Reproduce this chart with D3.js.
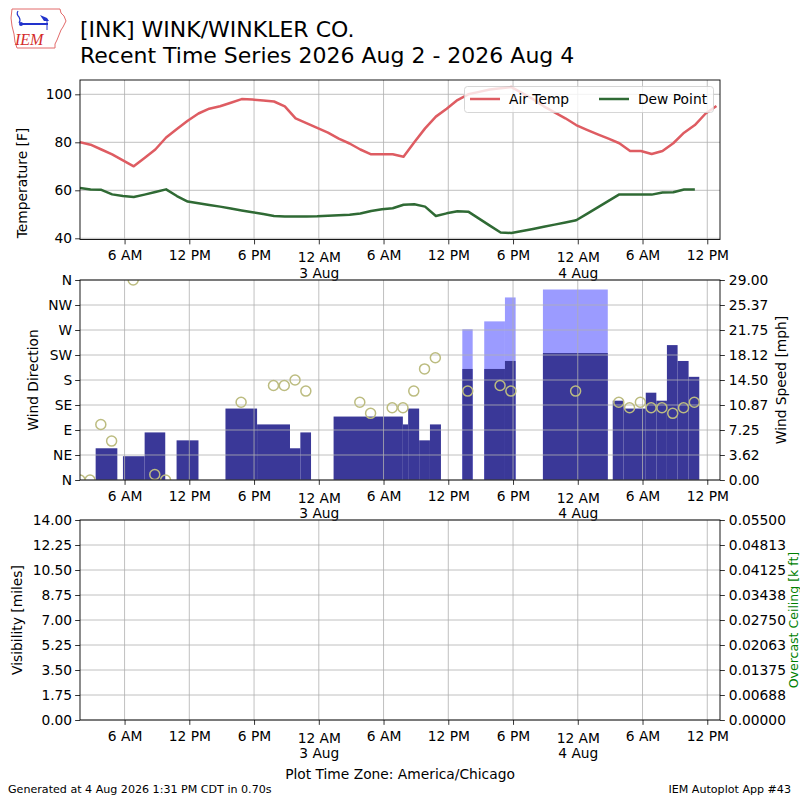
<!DOCTYPE html>
<html>
<head>
<meta charset="utf-8">
<script src="https://cdn.jsdelivr.net/npm/d3@7"></script>
<style>
body { margin: 0; background: #fff; }
svg { font-family: "DejaVu Sans", sans-serif; }
</style>
</head>
<body>
<svg id="chart" width="800" height="800"></svg>
<script>
// all times are hours after 2026-08-02 00:00 (local station time)
var obsHours = [1.87, 2.85, 3.85, 4.85, 5.85, 6.85, 7.85, 8.85, 9.85, 10.85, 11.85, 12.85, 13.85, 14.85, 15.85,
  16.85, 17.85, 18.85, 19.85, 20.85, 21.85, 22.85, 23.85, 24.85, 25.85, 26.85, 27.85, 28.85, 29.85, 30.85,
  31.85, 32.85, 33.85, 34.85, 35.85, 36.85, 37.85, 38.85, 39.85, 40.85, 41.85, 42.85, 43.85, 44.85, 45.85,
  46.85, 47.85, 48.85, 49.85, 50.85, 51.85, 52.85, 53.85, 54.85, 55.85, 56.85, 57.85, 58.85, 59.85, 60.85];
var tempValues = [80, 79, 77, 75, 72.5, 70, 73.5, 77, 82, 85.5, 89, 92, 94, 95, 96.5,
  98, 97.8, 97.4, 97, 95, 90, 88, 86, 84, 81.5, 79.5, 77, 75, 75, 75,
  74, 80, 85.8, 90.7, 94, 97.6, 100, 101, 102, 102.5, 103, 100.5, 98, 95, 92.5,
  90, 87.2, 85.2, 83.3, 81.5, 79.6, 76.4, 76.4, 75.1, 76.4, 79.6, 84, 87.2, 92, 95.1];
var dewValues = [61, 60.3, 60.2, 58.3, 57.6, 57.2, 58.2, 59.3, 60.4, 57.6, 55.3, 54.6, 53.9, 53.2, 52.4,
  51.6, 50.9, 50.1, 49.3, 49.1, 49.1, 49.1, 49.2, 49.4, 49.6, 49.8, 50.3, 51.4, 52.1, 52.5,
  54, 54.2, 53.2, 49.3, 50.4, 51.3, 51.1, 48.2, 45.3, 42.4, 42.2, 43, 43.9, 44.8, 45.7,
  46.6, 47.5, 50.2, 52.9, 55.6, 58.3, 58.2, 58.2, 58.2, 59.1, 59.2, 60.3, 60.3];

// wind direction observations
var dirHours = [1.87, 2.8, 3.8, 4.8, 6.8, 8.8, 9.8, 16.8, 19.8, 20.8, 21.8, 22.8, 27.8, 28.8, 30.8, 31.8,
  32.8, 33.8, 34.8, 37.8, 40.8, 41.8, 47.8, 51.8, 52.8, 53.8, 54.8, 55.8, 56.8, 57.8, 58.8];
var dirValues = [0, 0, 100, 70, 360, 10, 0, 140, 170, 170, 180, 160, 140, 120, 130, 130,
  160, 200, 220, 160, 170, 160, 160, 140, 130, 140, 130, 130, 120, 130, 140];

// wind speed / gust bars [mph]
var windFrom = [3.32, 5.85, 7.86, 10.82, 15.35, 18.28, 21.33, 22.29, 25.37, 31.79, 32.28, 33.3, 34.3,
  37.3, 39.33, 41.25, 44.77, 51.24, 52.25, 54.3, 55.28, 56.26, 57.25, 58.27];
var windTo = [5.33, 7.86, 9.77, 12.85, 18.28, 21.33, 22.29, 23.28, 31.79, 32.28, 33.3, 34.3, 35.32,
  38.26, 41.25, 42.24, 50.78, 52.25, 54.3, 55.28, 56.26, 57.25, 58.27, 59.26];
var windSpeed = [4.6, 3.45, 6.9, 5.75, 10.36, 8.06, 4.6, 6.9, 9.2, 8.06, 10.36, 5.75, 8.06,
  16.1, 16.1, 17.26, 18.41, 11.5, 10.36, 12.66, 11.5, 19.56, 17.26, 14.96];
var windGust = [0, 0, 0, 0, 0, 0, 0, 0, 0, 0, 0, 0, 0,
  21.86, 23.0, 26.47, 27.62, 0, 0, 0, 0, 0, 0, 0];

// axis ticks
var tempTicks = [40, 60, 80, 100];
var dirTicks = [0, 45, 90, 135, 180, 225, 270, 315, 360];
var dirLabels = ['N', 'NE', 'E', 'SE', 'S', 'SW', 'W', 'NW', 'N'];
var speedTicks = [0, 3.625, 7.25, 10.875, 14.5, 18.125, 21.75, 25.375, 29];
var speedLabels = ['0.00', '3.62', '7.25', '10.87', '14.50', '18.12', '21.75', '25.37', '29.00'];
var visTicks = [0, 1.75, 3.5, 5.25, 7, 8.75, 10.5, 12.25, 14];
var ceilTicks = [0, 0.006875, 0.01375, 0.020625, 0.0275, 0.034375, 0.04125, 0.048125, 0.055];
var ceilLabels = ['0.00000', '0.00688', '0.01375', '0.02063', '0.02750', '0.03438', '0.04125', '0.04813', '0.05500'];

var t0 = Date.UTC(2026, 7, 2);
function hr(h) { return new Date(t0 + h * 3600000); }

var svg = d3.select('#chart');
var fs = 13.8, tickLen = 4.86;
var gridColor = '#b0b0b0';

var x = d3.scaleUtc().domain([hr(1.87), hr(61.18)]).range([80, 720]);
var xTicks = d3.utcHour.every(6).range(hr(1.87), hr(61.18));
var fmtHour = d3.utcFormat('%-I %p'), fmtDay = d3.utcFormat('%-d %b');

var defs = svg.append('defs');

// draws grid + x axis for one panel, returns layer for marks
function makePanel(id, top, bottom) {
	defs.append('clipPath').attr('id', 'clip' + id).append('rect')
		.attr('x', 80).attr('y', top).attr('width', 640).attr('height', bottom - top);
	var g = svg.append('g').attr('class', 'panel');
	g.marks = g.append('g').attr('clip-path', 'url(#clip' + id + ')');
	g.grid = g.append('g');
	g.grid.selectAll('line.v').data(xTicks).enter().append('line').attr('class', 'v')
		.attr('x1', function(d) { return x(d); }).attr('x2', function(d) { return x(d); })
		.attr('y1', top).attr('y2', bottom).attr('stroke', gridColor).attr('stroke-width', 0.8);
	g.top = g.append('g').attr('clip-path', 'url(#clip' + id + ')');

	var ax = g.append('g').attr('transform', 'translate(0,' + bottom + ')')
		.call(d3.axisBottom(x).tickValues(xTicks).tickSize(tickLen).tickSizeOuter(0).tickFormat(fmtHour));
	ax.select('.domain').remove();
	ax.selectAll('.tick line').attr('stroke', '#000').attr('stroke-width', 0.8);
	ax.selectAll('.tick text').attr('font-size', fs).attr('font-family', 'DejaVu Sans').attr('fill', '#000')
		.attr('dy', null).attr('y', 20.8)
		.each(function(d) {
			if (d.getUTCHours() === 0) {
				var t = d3.select(this).text(null).attr('y', 22.8);
				t.append('tspan').attr('x', 0).text(fmtHour(d));
				t.append('tspan').attr('x', 0).attr('dy', 15.6).text(fmtDay(d));
			}
		});
	g.frame = function() {
		g.append('rect').attr('x', 80).attr('y', top).attr('width', 640).attr('height', bottom - top)
			.attr('fill', 'none').attr('stroke', '#000').attr('stroke-width', 0.9);
	};
	return g;
}

function yGrid(g, scale, ticks) {
	g.grid.selectAll('line.h').data(ticks).enter().append('line').attr('class', 'h')
		.attr('x1', 80).attr('x2', 720)
		.attr('y1', function(d) { return scale(d); }).attr('y2', function(d) { return scale(d); })
		.attr('stroke', gridColor).attr('stroke-width', 0.8);
}

function styleAxis(ax) {
	ax.select('.domain').remove();
	ax.selectAll('.tick line').attr('stroke', '#000').attr('stroke-width', 0.8);
	ax.selectAll('.tick text').attr('font-size', fs).attr('font-family', 'DejaVu Sans').attr('fill', '#000');
}

function axisLabel(text, px, py, color, size) {
	svg.append('text').attr('transform', 'translate(' + px + ',' + py + ') rotate(-90)')
		.attr('text-anchor', 'middle').attr('font-size', size || fs).attr('fill', color || '#000').text(text);
}

// ---------------- titles / logo
var logo = svg.append('g');
logo.append('path').attr('d', 'M12,9 L60,9 L61,13 L64,16 L66,21 L63,27 L61,30 L59,35 L57,40 L55,44 L55,48 L17,48 L15,42 L14,34 L12,26 L11,18 Z')
	.attr('fill', 'none').attr('stroke', '#e26a6a').attr('stroke-width', 1);
logo.append('path').attr('d', 'M18,11 Q16,14 19,17 Q21,20 19,23').attr('fill', 'none').attr('stroke', '#2233cc').attr('stroke-width', 1.2);
logo.append('line').attr('x1', 20).attr('y1', 24).attr('x2', 48).attr('y2', 24).attr('stroke', '#2233cc').attr('stroke-width', 2);
logo.append('path').attr('d', 'M40,15 L47,18 L49,21 L44,21 Z').attr('fill', '#2233cc');
logo.append('line').attr('x1', 47).attr('y1', 20).attr('x2', 47).attr('y2', 30).attr('stroke', '#2233cc').attr('stroke-width', 1);
logo.append('circle').attr('cx', 21).attr('cy', 24).attr('r', 2).attr('fill', '#2233cc');
logo.append('text').attr('x', 15).attr('y', 45).attr('font-family', 'Liberation Serif').attr('font-style', 'italic')
	.attr('font-size', 16).attr('fill', '#d42a2a').text('IEM');

svg.append('text').attr('x', 80).attr('y', 37).attr('font-size', 22).attr('fill', '#000').text('[INK] WINK/WINKLER CO.');
svg.append('text').attr('x', 80).attr('y', 63).attr('font-size', 22).attr('fill', '#000').text('Recent Time Series 2026 Aug 2 - 2026 Aug 4');

// ---------------- temperature panel
var p1 = makePanel(1, 80, 239.5);
var yT = d3.scaleLinear().domain([39.5, 105.96]).range([239.5, 80]);
yGrid(p1, yT, tempTicks);
var line = d3.line().x(function(d) { return x(hr(d[0])); }).y(function(d) { return yT(d[1]); });
var tempColor = '#de5c62', dewColor = '#2f6a34';
p1.top.append('path').datum(d3.zip(obsHours, tempValues)).attr('d', line)
	.attr('fill', 'none').attr('stroke', tempColor).attr('stroke-width', 2.5).attr('stroke-linejoin', 'round');
p1.top.append('path').datum(d3.zip(obsHours.slice(0, dewValues.length), dewValues)).attr('d', line)
	.attr('fill', 'none').attr('stroke', dewColor).attr('stroke-width', 2.5).attr('stroke-linejoin', 'round');
styleAxis(svg.append('g').attr('transform', 'translate(80,0)')
	.call(d3.axisLeft(yT).tickValues(tempTicks).tickSize(tickLen).tickPadding(3).tickSizeOuter(0)));
p1.frame();
axisLabel('Temperature [F]', 27, 183);

// legend
var lg = svg.append('g');
lg.append('rect').attr('x', 464.5).attr('y', 86.5).attr('width', 249).attr('height', 26).attr('rx', 3)
	.attr('fill', '#fff').attr('fill-opacity', 0.8).attr('stroke', '#cccccc').attr('stroke-width', 0.8);
[['Air Temp', tempColor, 470], ['Dew Point', dewColor, 599]].forEach(function(e) {
	lg.append('line').attr('x1', e[2]).attr('x2', e[2] + 30).attr('y1', 99).attr('y2', 99)
		.attr('stroke', e[1]).attr('stroke-width', 2.5);
	lg.append('text').attr('x', e[2] + 39).attr('y', 104).attr('font-size', fs).attr('fill', '#000').text(e[0]);
});

// ---------------- wind panel
var p2 = makePanel(2, 280, 480);
var yD = d3.scaleLinear().domain([0, 360]).range([480, 280]);
var yS = d3.scaleLinear().domain([0, 29]).range([480, 280]);
yGrid(p2, yD, dirTicks);
var bars = d3.range(windFrom.length);
p2.marks.selectAll('rect.gust').data(bars.filter(function(i) { return windGust[i] > 0; })).enter().append('rect')
	.attr('x', function(i) { return x(hr(windFrom[i])); })
	.attr('width', function(i) { return x(hr(windTo[i])) - x(hr(windFrom[i])); })
	.attr('y', function(i) { return yS(windGust[i]); })
	.attr('height', function(i) { return yS(0) - yS(windGust[i]); })
	.attr('fill', '#9b9bff');
p2.marks.selectAll('rect.speed').data(bars).enter().append('rect')
	.attr('x', function(i) { return x(hr(windFrom[i])); })
	.attr('width', function(i) { return x(hr(windTo[i])) - x(hr(windFrom[i])); })
	.attr('y', function(i) { return yS(windSpeed[i]); })
	.attr('height', function(i) { return yS(0) - yS(windSpeed[i]); })
	.attr('fill', '#3a3898');
p2.top.selectAll('circle').data(d3.range(dirHours.length)).enter().append('circle')
	.attr('cx', function(i) { return x(hr(dirHours[i])); })
	.attr('cy', function(i) { return yD(dirValues[i]); })
	.attr('r', 5).attr('fill', 'none').attr('stroke', '#bcbc80').attr('stroke-width', 1.5);
styleAxis(svg.append('g').attr('transform', 'translate(80,0)')
	.call(d3.axisLeft(yD).tickValues(dirTicks).tickSize(tickLen).tickPadding(3).tickSizeOuter(0)
		.tickFormat(function(d, i) { return dirLabels[i]; })));
styleAxis(svg.append('g').attr('transform', 'translate(720,0)')
	.call(d3.axisRight(yS).tickValues(speedTicks).tickSize(tickLen).tickPadding(4).tickSizeOuter(0)
		.tickFormat(function(d, i) { return speedLabels[i]; })));
p2.frame();
axisLabel('Wind Direction', 38, 380);
axisLabel('Wind Speed [mph]', 786, 380);

// ---------------- visibility panel
var p3 = makePanel(3, 520, 720);
var yV = d3.scaleLinear().domain([0, 14]).range([720, 520]);
var yC = d3.scaleLinear().domain([0, 0.055]).range([720, 520]);
yGrid(p3, yV, visTicks);
styleAxis(svg.append('g').attr('transform', 'translate(80,0)')
	.call(d3.axisLeft(yV).tickValues(visTicks).tickSize(tickLen).tickPadding(3).tickSizeOuter(0).tickFormat(d3.format('.2f'))));
styleAxis(svg.append('g').attr('transform', 'translate(720,0)')
	.call(d3.axisRight(yC).tickValues(ceilTicks).tickSize(tickLen).tickPadding(4).tickSizeOuter(0)
		.tickFormat(function(d, i) { return ceilLabels[i]; })));
p3.frame();
axisLabel('Visibility [miles]', 22, 620);
// sits against the right edge like the original, kept just inside the page
axisLabel('Overcast Ceiling [k ft]', 797.5, 620, '#008000', 12.5);

// ---------------- footer
svg.append('text').attr('x', 400).attr('y', 779).attr('text-anchor', 'middle').attr('font-size', fs).text('Plot Time Zone: America/Chicago');
svg.append('text').attr('x', 8).attr('y', 793).attr('font-size', 11.1).text('Generated at 4 Aug 2026 1:31 PM CDT in 0.70s');
svg.append('text').attr('x', 791).attr('y', 793).attr('text-anchor', 'end').attr('font-size', 11.1).text('IEM Autoplot App #43');
</script>
</body>
</html>
